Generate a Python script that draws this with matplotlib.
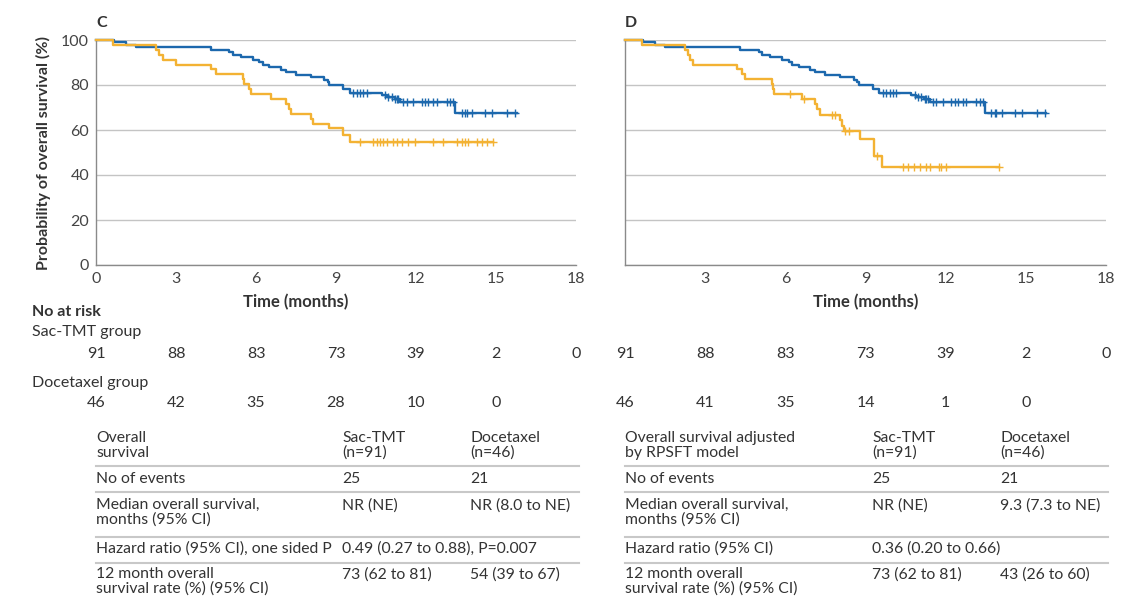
import numpy as np
import matplotlib
matplotlib.use('Agg')
import matplotlib.pyplot as plt
from matplotlib.lines import Line2D
from matplotlib.transforms import blended_transform_factory

plt.rcParams['font.family'] = ['Lato', 'DejaVu Sans']

# Sac-TMT curve (same in both panels)
sac_t = [0, 0.69, 1.12, 1.5, 4.31, 5.0, 5.12, 5.44, 5.88, 6.12, 6.25, 6.5, 6.94,
         7.12, 7.5, 8.06, 8.56, 8.7, 8.75, 9.27, 9.52, 10.71, 10.9, 11.2, 11.4, 13.46]
sac_s = [100, 98.9, 97.8, 96.7, 95.6, 94.5, 93.4, 92.3, 91.2, 90.1, 89.0, 87.9, 86.8,
         85.7, 84.6, 83.5, 82.4, 81.3, 80.2, 78.4, 76.6, 75.6, 74.6, 73.6, 72.6, 67.7]
sac_end = 15.77
sac_cens = [9.65, 9.77, 9.9, 10.02, 10.15, 10.84, 10.96, 11.09, 11.21, 11.27, 11.34,
            11.52, 11.65, 11.9, 12.21, 12.34, 12.46, 12.65, 12.77, 13.15, 13.27, 13.4,
            13.71, 13.84, 13.9, 14.09, 14.59, 14.84, 15.4, 15.71]

# Docetaxel, panel C
docc_t = [0, 0.62, 2.25, 2.37, 2.5, 3.0, 4.31, 4.5, 5.5, 5.56, 5.75, 5.81, 6.56,
          7.12, 7.25, 7.31, 8.06, 8.12, 8.75, 9.27, 9.52]
docc_s = [100, 97.8, 95.6, 93.4, 91.2, 89.0, 87.0, 84.8, 82.6, 80.4, 78.2, 76.0, 73.8,
          71.6, 69.4, 67.2, 65.0, 62.8, 60.9, 57.8, 54.8]
docc_end = 14.9
docc_cens = [9.9, 10.4, 10.52, 10.65, 10.77, 10.9, 11.15, 11.27, 11.46, 11.71, 11.96,
             12.65, 13.02, 13.52, 13.71, 13.84, 13.96, 14.27, 14.46, 14.65, 14.9]

# Docetaxel, panel D (RPSFT adjusted)
docd_t = [0, 0.62, 2.25, 2.37, 2.45, 2.56, 4.19, 4.37, 4.5, 5.5, 5.53, 5.56, 6.62,
          7.12, 7.19, 7.31, 8.06, 8.12, 8.19, 8.81, 9.31, 9.62]
docd_s = [100, 97.8, 95.6, 93.4, 91.2, 89.0, 87.0, 84.8, 82.6, 80.4, 78.2, 76.0, 73.8,
          71.4, 69.2, 66.8, 64.3, 62.0, 59.6, 55.8, 48.3, 43.6]
docd_end = 14.0
docd_cens = [6.19, 6.69, 7.75, 7.87, 8.25, 8.37, 9.44, 10.4, 10.6, 10.8, 11.05,
             11.25, 11.4, 11.75, 11.82, 12.03, 14.0]

ticks = [0, 3, 6, 9, 12, 15, 18]
risk_sac_c = [91, 88, 83, 73, 39, 2, 0]
risk_doc_c = [46, 42, 35, 28, 10, 0]
risk_sac_d = [91, 88, 83, 73, 39, 2, 0]
risk_doc_d = [46, 41, 35, 14, 1, 0]

table_c = [("Overall\nsurvival", "Sac-TMT\n(n=91)", "Docetaxel\n(n=46)"),
           ("No of events", "25", "21"),
           ("Median overall survival,\nmonths (95% CI)", "NR (NE)", "NR (8.0 to NE)"),
           ("Hazard ratio (95% CI), one sided P", "0.49 (0.27 to 0.88), P=0.007", ""),
           ("12 month overall\nsurvival rate (%) (95% CI)", "73 (62 to 81)", "54 (39 to 67)")]
table_d = [("Overall survival adjusted\nby RPSFT model", "Sac-TMT\n(n=91)", "Docetaxel\n(n=46)"),
           ("No of events", "25", "21"),
           ("Median overall survival,\nmonths (95% CI)", "NR (NE)", "9.3 (7.3 to NE)"),
           ("Hazard ratio (95% CI)", "0.36 (0.20 to 0.66)", ""),
           ("12 month overall\nsurvival rate (%) (95% CI)", "73 (62 to 81)", "43 (26 to 60)")]

BLUE = '#1c68ad'
ORANGE = '#f3b233'
TXT = '#333333'
W, H = 1130, 607


def fx(x):
    return x / W


def fy(y):
    return 1 - y / H


def km(ax, t, s, end, cens, color):
    tt = list(t) + [end]
    ss = list(s) + [s[-1]]
    ax.step(tt, ss, where='post', color=color, lw=1.7, clip_on=False, zorder=3)
    idx = np.searchsorted(t, cens, side='right') - 1
    cs = np.array(s)[idx]
    ax.plot(cens, cs, ls='none', marker='+', ms=6, mew=1.0, color=color,
            clip_on=False, zorder=3)


fig = plt.figure(figsize=(W / 100, H / 100), dpi=100)
axC = fig.add_axes([fx(96), fy(265), 480 / W, 225 / H])
axD = fig.add_axes([fx(625), fy(265), 481 / W, 225 / H])

for ax in (axC, axD):
    ax.set_xlim(0, 18)
    ax.set_ylim(0, 100)
    ax.set_yticks([0, 20, 40, 60, 80, 100])
    ax.set_xticks(ticks)
    for side in ('top', 'right'):
        ax.spines[side].set_visible(False)
    for side in ('left', 'bottom'):
        ax.spines[side].set_color('#8a8a8a')
        ax.spines[side].set_linewidth(1.0)
    ax.grid(axis='y', color='#c4c4c4', lw=1.0)
    ax.set_axisbelow(True)
    ax.tick_params(length=0, labelsize=11.5, colors='#444444', pad=5)

km(axC, sac_t, sac_s, sac_end, sac_cens, BLUE)
km(axC, docc_t, docc_s, docc_end, docc_cens, ORANGE)
km(axD, sac_t, sac_s, sac_end, sac_cens, BLUE)
km(axD, docd_t, docd_s, docd_end, docd_cens, ORANGE)

axC.set_ylabel('Probability of overall survival (%)', fontsize=11.5, fontweight='bold',
               color=TXT, labelpad=7)
axD.set_yticklabels([])
axD.set_xticklabels([''] + [str(v) for v in ticks[1:]])

axC.text(0.417, -0.165, 'Time (months)', transform=axC.transAxes, ha='center', va='center',
         fontsize=12, fontweight='bold', color=TXT)
axD.text(0.5, -0.165, 'Time (months)', transform=axD.transAxes, ha='center', va='center',
         fontsize=12, fontweight='bold', color=TXT)
fig.text(fx(96), fy(23), 'C', fontsize=11.5, fontweight='bold', color=TXT, va='center')
fig.text(fx(625), fy(23), 'D', fontsize=11.5, fontweight='bold', color=TXT, va='center')

# number at risk
fig.text(fx(32), fy(312), 'No at risk', fontsize=11.5, fontweight='bold', color=TXT, va='center')
fig.text(fx(32), fy(332), 'Sac-TMT group', fontsize=11.5, color=TXT, va='center')
fig.text(fx(32), fy(383), 'Docetaxel group', fontsize=11.5, color=TXT, va='center')
for ax, rs, rd in ((axC, risk_sac_c, risk_doc_c), (axD, risk_sac_d, risk_doc_d)):
    tr = blended_transform_factory(ax.transData, fig.transFigure)
    for t, n in zip(ticks, rs):
        ax.text(t, fy(354), str(n), transform=tr, ha='center', va='center',
                fontsize=11.5, color=TXT)
    for t, n in zip(ticks, rd):
        ax.text(t, fy(403), str(n), transform=tr, ha='center', va='center',
                fontsize=11.5, color=TXT)

# summary tables
row_y = [431, 472, 498, 541, 567]
line_y = [466, 492, 537, 563]
for x0, x1, x2, x3, rows in ((96, 342, 470, 579, table_c), (625, 872, 1000, 1108, table_d)):
    for y, (a, b, c) in zip(row_y, rows):
        for xx, s in ((x0, a), (x1, b), (x2, c)):
            fig.text(fx(xx), fy(y), s, fontsize=11.3, color=TXT, va='top', linespacing=1.05)
    for y in line_y:
        fig.add_artist(Line2D([fx(x0), fx(x3)], [fy(y), fy(y)], color='#c8c8c8', lw=1.5))

fig.savefig('out.png', dpi=100, facecolor='white')
